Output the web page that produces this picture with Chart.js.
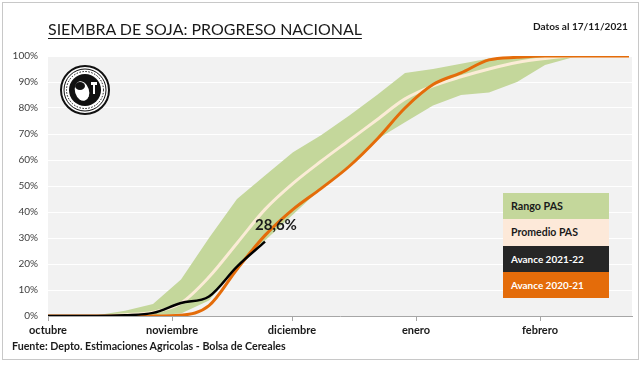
<!DOCTYPE html>
<html>
<head>
<meta charset="utf-8">
<script src="https://cdn.jsdelivr.net/npm/chart.js@4.4.1/dist/chart.umd.min.js"></script>
<style>
  html,body{margin:0;padding:0;background:#fff;}
  #wrap{position:relative;width:644px;height:367px;overflow:hidden;font-family:Lato,"Open Sans",sans-serif;}
  #frame{position:absolute;left:2px;top:2px;width:637px;height:358px;border:1px solid #c8c8c8;box-sizing:border-box;}
  canvas{position:absolute;left:0;top:0;}
  .txt{position:absolute;white-space:nowrap;color:#1a1a1a;}
  #title{left:48px;top:19px;font-size:19px;text-decoration:underline;text-underline-offset:3px;text-decoration-thickness:1px;}
  #datos{left:533px;top:20px;font-size:11px;font-weight:bold;}
  #fuente{left:12px;top:339px;font-size:11px;font-weight:bold;}
  #legend{position:absolute;left:503px;top:193px;width:106px;}
  #legend div{height:26.3px;line-height:26.3px;padding-left:8px;font-size:11px;font-weight:bold;white-space:nowrap;}
  #legend span{display:inline-block;}
</style>
</head>
<body>
<div id="wrap">
  <div id="frame"></div>
  <canvas id="c" width="644" height="367"></canvas>
  <div class="txt" id="title">SIEMBRA DE SOJA: PROGRESO NACIONAL</div>
  <div class="txt" id="datos">Datos al 17/11/2021</div>
  <div class="txt" id="fuente">Fuente: Depto. Estimaciones Agricolas - Bolsa de Cereales</div>
  <div id="legend"></div>
</div>
<script>
// ---- data (x = position in days from 1 October, values in %) ----
const weekPos   = [0, 5.25, 12.25, 19.25, 26.25, 33.25, 40.25, 47.25, 54.25, 61.25, 68.25, 75.25, 82.25, 89.25, 96.25, 103.25, 110.25, 117.25, 124.25, 131.25, 138.25, 145.25];
const rangoMax  = [0, 0, 0.3, 2, 4.6, 14, 30, 45, 54, 63, 69.5, 77, 85, 93.5, 95, 97, 99, 99.7, 100, 100, 100, 100];
const rangoMin  = [0, 0, 0, 0, 0.3, 1, 6, 19, 29, 39, 49, 58, 68, 74.5, 81, 85, 86, 90, 96.5, 99.5, 100, 100];
const promedio  = [0, 0, 0, 0.5, 1.5, 5, 15, 28, 41, 51, 59.5, 67.5, 75.5, 83.5, 88.5, 92, 95, 97.5, 99, 100, 100, 100];
const avance2021= [0, 0, 0, 0, 0, 0.3, 4, 18, 31, 41, 49, 57.5, 68, 80, 89, 93.5, 98.5, 99.5, 100, 100, 100, 100];
const avance2122= [0, 0, 0, 0.3, 1.2, 5, 7.5, 19, 28.6];
const monthPos    = [0, 31, 61, 92, 123];
const monthLabels = ["octubre", "noviembre", "diciembre", "enero", "febrero"];
const yTicks      = [0, 10, 20, 30, 40, 50, 60, 70, 80, 90, 100];
const legendItems = [
  {label: "Rango PAS", bg: "#c4d79b", fg: "#1a1a1a"},
  {label: "Promedio PAS", bg: "#fde9d9", fg: "#1a1a1a"},
  {label: "Avance 2021-22", bg: "#262626", fg: "#ffffff"},
  {label: "Avance 2020-21", bg: "#e46c0a", fg: "#ffffff"}
];
const legendTextWidths = [52, 67, 73, 73];
const lastLabel = "28,6%";

const pts = (arr) => arr.map((v, i) => ({x: weekPos[i], y: v}));

// fit an element's text to a target width by adjusting font size
function fitWidth(el, target) {
  const fs = parseFloat(getComputedStyle(el).fontSize);
  const w = el.getBoundingClientRect().width;
  el.style.fontSize = (fs * target / w).toFixed(2) + 'px';
}

// legend
const lg = document.getElementById('legend');
legendItems.forEach((it, i) => {
  const d = document.createElement('div');
  const s = document.createElement('span');
  s.textContent = it.label;
  d.appendChild(s);
  d.style.background = it.bg; d.style.color = it.fg;
  lg.appendChild(d);
  fitWidth(s, legendTextWidths[i]);
});

const bgPlugin = {
  id: 'bg',
  beforeDraw(chart) {
    const {ctx, chartArea: a} = chart;
    ctx.save();
    ctx.fillStyle = '#f2f2f2';
    ctx.fillRect(a.left, a.top, a.right - a.left, a.bottom - a.top);
    ctx.restore();
  },
  afterDatasetsDraw(chart) {
    const ctx = chart.ctx;
    const meta = chart.getDatasetMeta(0);
    const p = meta.data[meta.data.length - 1];
    ctx.save();
    ctx.font = 'bold 15px Lato, sans-serif';
    ctx.fillStyle = '#1a1a1a';
    ctx.textAlign = 'left';
    ctx.textBaseline = 'middle';
    ctx.fillText(lastLabel, p.x - 10, p.y - 16);
    ctx.restore();
    // seal (logo)
    const cx = 85, cy = 90;
    ctx.save();
    ctx.strokeStyle = '#111'; ctx.fillStyle = '#fff';
    ctx.lineWidth = 2;
    ctx.beginPath(); ctx.arc(cx, cy, 24, 0, Math.PI * 2); ctx.fill(); ctx.stroke();
    ctx.lineWidth = 1;
    ctx.beginPath(); ctx.arc(cx, cy, 21, 0, Math.PI * 2); ctx.stroke();
    ctx.setLineDash([1.5, 1.5]);
    ctx.beginPath(); ctx.arc(cx, cy, 18.5, 0, Math.PI * 2); ctx.stroke();
    ctx.setLineDash([]);
    ctx.fillStyle = '#111';
    ctx.beginPath(); ctx.arc(cx, cy, 16, 0, Math.PI * 2); ctx.fill();
    ctx.fillStyle = '#fff';
    ctx.beginPath(); ctx.ellipse(cx - 3, cy + 1, 7, 10, -0.3, 0, Math.PI * 2); ctx.fill();
    ctx.fillStyle = '#111';
    ctx.beginPath(); ctx.ellipse(cx - 5, cy - 4, 5, 4, 0, 0, Math.PI * 2); ctx.fill();
    ctx.fillStyle = '#fff';
    ctx.fillRect(cx + 6, cy - 8, 6, 3);
    ctx.fillRect(cx + 8, cy - 6, 2, 10);
    ctx.restore();
  }
};

new Chart(document.getElementById('c'), {
  type: 'line',
  data: {
    datasets: [
      {label: 'Avance 2021-22', data: pts(avance2122), borderColor: '#000000', borderWidth: 2.5, pointRadius: 0, cubicInterpolationMode: 'monotone', fill: false, order: 0},
      {label: 'Avance 2020-21', data: pts(avance2021), borderColor: '#e46c0a', borderWidth: 3, pointRadius: 0, cubicInterpolationMode: 'monotone', fill: false, order: 1},
      {label: 'Promedio PAS', data: pts(promedio), borderColor: '#fbecd6', borderWidth: 3, pointRadius: 0, cubicInterpolationMode: 'monotone', fill: false, order: 2},
      {label: 'Rango max', data: pts(rangoMax), borderColor: 'rgba(0,0,0,0)', borderWidth: 0, pointRadius: 0, tension: 0, backgroundColor: '#c4d79b', fill: '+1', order: 3},
      {label: 'Rango min', data: pts(rangoMin), borderColor: 'rgba(0,0,0,0)', borderWidth: 0, pointRadius: 0, tension: 0, fill: false, order: 4}
    ]
  },
  options: {
    responsive: false,
    animation: false,
    layout: {padding: {left: 0, right: 12, top: 56, bottom: 23}},
    plugins: {legend: {display: false}, tooltip: {enabled: false}},
    scales: {
      x: {
        type: 'linear', min: 0, max: 146,
        afterBuildTicks(s) { s.ticks = monthPos.map(v => ({value: v})); },
        afterFit(s) { s.height = 28; },
        ticks: {
          callback: (v) => { const i = monthPos.indexOf(v); return i >= 0 ? monthLabels[i] : ''; },
          font: {family: 'Lato', size: 11, weight: 'bold'}, color: '#1a1a1a', maxRotation: 0, autoSkip: false, padding: 3
        },
        grid: {drawOnChartArea: false, drawTicks: true, tickLength: 5, color: '#a6a6a6'},
        border: {color: '#a6a6a6'}
      },
      y: {
        min: 0, max: 100,
        afterBuildTicks(s) { s.ticks = yTicks.map(v => ({value: v})); },
        afterFit(s) { s.width = 48; },
        ticks: {callback: v => v + '%', font: {family: 'Lato', size: 10}, color: '#404040', padding: 10},
        grid: {color: '#ffffff', lineWidth: 1, drawTicks: false},
        border: {display: false}
      }
    }
  },
  plugins: [bgPlugin]
});

fitWidth(document.getElementById('title'), 314);
fitWidth(document.getElementById('datos'), 95);
fitWidth(document.getElementById('fuente'), 274);
</script>
</body>
</html>
